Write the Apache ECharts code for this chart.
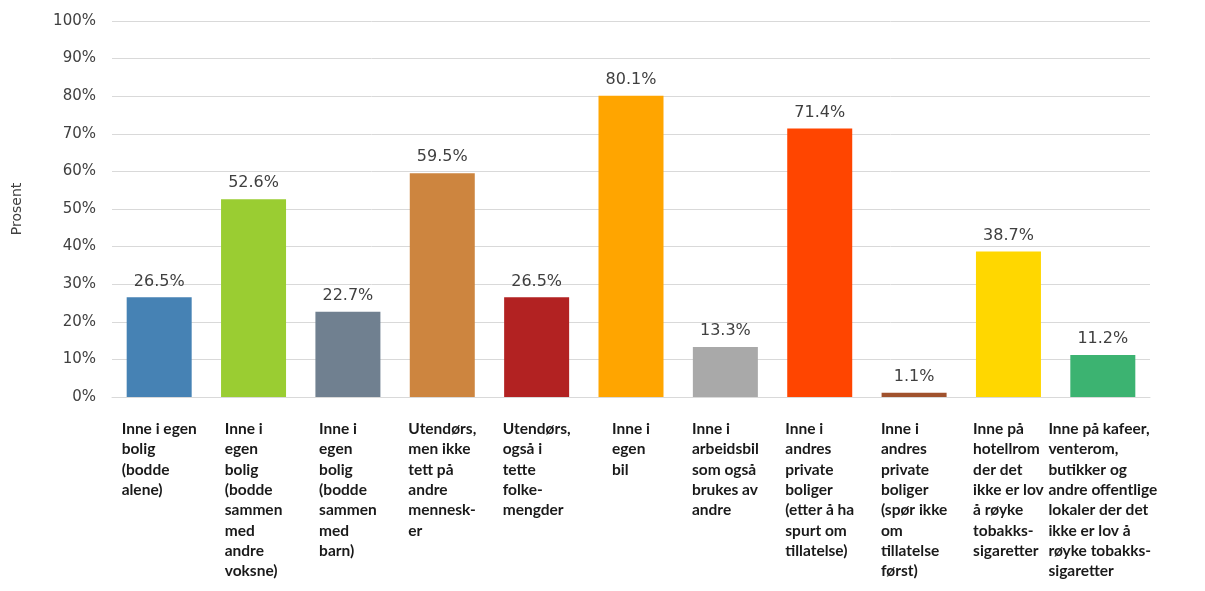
<!DOCTYPE html>
<html><head><meta charset="utf-8">
<script src="https://cdn.jsdelivr.net/npm/echarts@6/dist/echarts.min.js"></script>
<style>html,body{margin:0;padding:0;background:#fff}#c{width:1205px;height:591px}</style>
</head><body><div id="c"></div>
<script>
const categories = [
  ["Inne i egen", "bolig", "(bodde", "alene)"],
  ["Inne i", "egen", "bolig", "(bodde", "sammen", "med", "andre", "voksne)"],
  ["Inne i", "egen", "bolig", "(bodde", "sammen", "med", "barn)"],
  ["Utendørs,", "men ikke", "tett på", "andre", "mennesk-", "er"],
  ["Utendørs,", "også i", "tette", "folke-", "mengder"],
  ["Inne i", "egen", "bil"],
  ["Inne i", "arbeidsbil", "som også", "brukes av", "andre"],
  ["Inne i", "andres", "private", "boliger", "(etter å ha", "spurt om", "tillatelse)"],
  ["Inne i", "andres", "private", "boliger", "(spør ikke", "om", "tillatelse", "først)"],
  ["Inne på", "hotellrom", "der det", "ikke er lov", "å røyke", "tobakks-", "sigaretter"],
  ["Inne på kafeer,", "venterom,", "butikker og", "andre offentlige", "lokaler der det", "ikke er lov å", "røyke tobakks-", "sigaretter"]
];
const values = [26.5, 52.6, 22.7, 59.5, 26.5, 80.1, 13.3, 71.4, 1.1, 38.7, 11.2];
const colors = ["#4682B4", "#9ACD32", "#708090", "#CD853F", "#B22222", "#FFA500", "#A9A9A9", "#FF4500", "#A0522D", "#FFD700", "#3CB371"];
const yTicks = [0, 10, 20, 30, 40, 50, 60, 70, 80, 90, 100];
const yAxisName = "Prosent";

const chart = echarts.init(document.getElementById('c'), null, {renderer: 'canvas'});
chart.setOption({
  animation: false,
  grid: {left: 112, right: 55, top: 21, bottom: 194, containLabel: false},
  xAxis: {
    type: 'category',
    data: categories.map(l => l.join('\n')),
    axisLine: {show: true, lineStyle: {color: '#d9d9d9', width: 1}},
    axisTick: {show: false},
    axisLabel: {
      interval: 0,
      margin: 22,
      align: 'center',
      verticalAlign: 'top',
      formatter: v => v.split('\n').map(s => '{l|' + s + '}').join('\n'),
      rich: {l: {align: 'left', fontFamily: 'Lato', fontWeight: 'bold', fontSize: 15.5, lineHeight: 20.3, color: '#1a1a1a'}}
    }
  },
  yAxis: {
    type: 'value',
    min: yTicks[0], max: yTicks[yTicks.length - 1], interval: 10,
    name: yAxisName,
    nameLocation: 'middle',
    nameGap: 88,
    nameRotate: 90,
    nameTextStyle: {fontFamily: 'DejaVu Sans', fontSize: 14, color: '#404040'},
    axisLine: {show: false},
    axisTick: {show: false},
    splitLine: {lineStyle: {color: '#d9d9d9', width: 1}},
    axisLabel: {margin: 16, formatter: v => v + '%', fontFamily: 'DejaVu Sans', fontSize: 15, color: '#404040'}
  },
  series: [{
    type: 'bar',
    barWidth: 65,
    data: values.map((v, i) => ({value: v, itemStyle: {color: colors[i]}})),
    label: {
      show: true, position: 'top', distance: 8,
      formatter: p => p.value.toFixed(1) + '%',
      fontFamily: 'DejaVu Sans', fontSize: 16, color: '#404040'
    }
  }]
});
</script></body></html>
